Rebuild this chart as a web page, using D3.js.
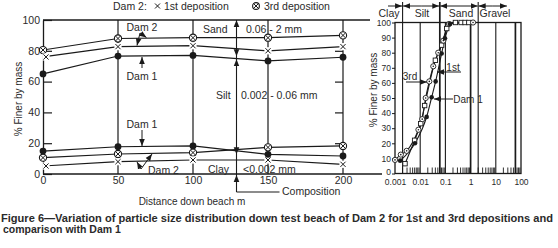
<!DOCTYPE html>
<html><head><meta charset="utf-8">
<script src="https://cdn.jsdelivr.net/npm/d3@7"></script>
<style>
body{margin:0;background:#fff;}
svg{display:block;font-family:"Liberation Sans",Arial,sans-serif;}
text{fill:#2a2a2a;}
</style></head><body>
<svg id="c" width="558" height="248"></svg>
<script>
// ---------- data: left chart (distance down beach) ----------
const distances = [0, 50, 100, 150, 200];
const upper3rd  = [80.5, 88, 88.5, 88.5, 90];
const upper1st  = [76, 82.7, 83.3, 80, 82.7];
const upperDam1 = [65, 76.6, 77, 73.4, 75.8];
const lower3rd  = [10.6, 13, 13.9, 17.3, 18.2];
const lower1st  = [5.2, 8, 9.1, 9.1, 6.3];
const lowerDam1 = [14.9, 17.7, 18.2, 12.8, 11.7];
const leftYTicks = [0, 20, 40, 60, 80, 100];
const compositionAt = 129;          // m
const sandFrom = 75.5, clayTo = 12.5; // % at composition line

// ---------- data: right chart (grading curves) ----------
const size3rd = [0.001, 0.0017, 0.0029, 0.0085, 0.012, 0.0165, 0.023, 0.033, 0.052, 0.083, 0.14, 1.25];
const pct3rd  = [9, 12.5, 15, 29, 36, 50, 61, 71, 80, 88, 99, 100];
const size1st = [0.0025, 0.006, 0.0105, 0.015, 0.04, 0.071, 0.113, 0.25, 0.42, 0.6, 0.85];
const pct1st  = [6.5, 22, 33, 45, 75, 85, 96, 100, 100, 100, 100];
const sizeDam1 = [0.0016, 0.0062, 0.018, 0.0285, 0.041, 0.071, 0.096, 0.15];
const pctDam1  = [8.5, 20, 37.5, 50.5, 61, 79.5, 89.5, 99];
const rightXTicks = [0.001, 0.01, 0.1, 1, 10, 100];
const rightXLabels = ["0.001", "0.01", "0.1", "1", "10", "100"];
const rightYTicks = [0,10,20,30,40,50,60,70,80,90,100];
const classBounds = [0.002, 0.06, 2];
const classNames = ["Clay", "Silt", "Sand", "Gravel"];
const gridSizes = [0.002, 0.01, 0.06, 0.1, 1, 2, 10, 60];

const svg = d3.select("#c");
const ink = "#1a1a1a";

const defs = svg.append("defs");
defs.append("marker").attr("id","ah").attr("viewBox","0 0 10 10").attr("refX",10).attr("refY",5)
  .attr("markerWidth",7).attr("markerHeight",7).attr("markerUnits","userSpaceOnUse").attr("orient","auto")
  .append("path").attr("d","M0,1 L10,5 L0,9 Z").attr("fill",ink);

// ================= LEFT CHART =================
const xL = d3.scaleLinear().domain([0,200]).range([43,343]);
const yL = d3.scaleLinear().domain([0,100]).range([174,20]);
const gL = svg.append("g");

gL.append("line").attr("x1",43).attr("x2",370).attr("y1",yL(100)).attr("y2",yL(100)).attr("stroke",ink).attr("stroke-width",1.3);
gL.append("line").attr("x1",43).attr("x2",382).attr("y1",yL(0)).attr("y2",yL(0)).attr("stroke",ink).attr("stroke-width",1.3);
distances.slice(1).forEach(d=>{
  gL.append("line").attr("x1",xL(d)).attr("x2",xL(d)).attr("y1",yL(100)).attr("y2",yL(0)).attr("stroke",ink).attr("stroke-width",1.2);
});
const axL = gL.append("g").attr("transform",`translate(${xL(0)},0)`)
  .call(d3.axisLeft(yL).tickValues(leftYTicks).tickSizeInner(-9).tickSizeOuter(0).tickPadding(3));
axL.select(".domain").attr("stroke",ink).attr("stroke-width",1.3);
axL.selectAll(".tick line").attr("stroke",ink).attr("stroke-width",1.2);
axL.selectAll(".tick text").attr("font-size",10.5).attr("font-family","Liberation Sans, Arial").attr("fill","#2a2a2a");
const axR = gL.append("g").attr("transform",`translate(${xL(200)},0)`)
  .call(d3.axisRight(yL).tickValues([20,40,60,80]).tickSizeInner(-8).tickSizeOuter(0).tickFormat(""));
axR.select(".domain").remove();
axR.selectAll(".tick line").attr("stroke",ink).attr("stroke-width",1.2);
const axB = gL.append("g").attr("transform",`translate(0,${yL(0)})`)
  .call(d3.axisBottom(xL).tickValues(distances).tickSize(0).tickPadding(3));
axB.select(".domain").remove();
axB.selectAll(".tick text").attr("font-size",10.5).attr("font-family","Liberation Sans, Arial").attr("fill","#2a2a2a");

const lineL = d3.line().x((d,i)=>xL(distances[i])).y(d=>yL(d));
[upper3rd,upper1st,upperDam1,lower3rd,lower1st,lowerDam1].forEach(s=>{
  gL.append("path").attr("d",lineL(s)).attr("fill","none").attr("stroke",ink).attr("stroke-width",1.2);
});
function drawCircX(g,x,y,r){
  g.append("circle").attr("cx",x).attr("cy",y).attr("r",r).attr("fill","#fff").attr("stroke",ink).attr("stroke-width",1.1);
  const k=r*0.7;
  g.append("path").attr("d",`M${x-k},${y-k}L${x+k},${y+k}M${x-k},${y+k}L${x+k},${y-k}`).attr("stroke",ink).attr("stroke-width",1);
}
function drawX(g,x,y,r){
  g.append("rect").attr("x",x-r-1).attr("y",y-r-1).attr("width",2*r+2).attr("height",2*r+2).attr("fill","#fff");
  g.append("path").attr("d",`M${x-r},${y-r}L${x+r},${y+r}M${x-r},${y+r}L${x+r},${y-r}`).attr("stroke",ink).attr("stroke-width",1);
}
[upper3rd,lower3rd].forEach(s=>s.forEach((v,i)=>drawCircX(gL,xL(distances[i]),yL(v),3.6)));
[upper1st,lower1st].forEach(s=>s.forEach((v,i)=>drawX(gL,xL(distances[i])+(i===0?3:0),yL(v),2.6)));
[upperDam1,lowerDam1].forEach(s=>s.forEach((v,i)=>{
  gL.append("circle").attr("cx",xL(distances[i])).attr("cy",yL(v)).attr("r",3.4).attr("fill",ink);
}));

const cx = xL(compositionAt);
gL.append("path").attr("d",`M${cx},${yL(0)+18}L${cx},${yL(100)+8}`).attr("stroke",ink).attr("stroke-width",1.1).attr("fill","none");
gL.append("path").attr("d",`M${cx},${yL(0)+18}L${cx+43},${yL(0)+18}`).attr("stroke",ink).attr("stroke-width",1.1);
function arrow(x1,y1,x2,y2){
  gL.append("line").attr("x1",x1).attr("y1",y1).attr("x2",x2).attr("y2",y2).attr("stroke",ink).attr("stroke-width",1).attr("marker-end","url(#ah)");
}
arrow(cx,yL(100)+9,cx,yL(100));
arrow(cx,yL(sandFrom)-8,cx,yL(sandFrom)-1.5);
arrow(cx,yL(sandFrom)+9,cx,yL(sandFrom)+1.5);
arrow(cx,yL(clayTo)-9,cx,yL(clayTo)-0.5);
arrow(cx,yL(0)+8,cx,yL(0)+1);

const tl = (x,y,t,anchor,fs)=>gL.append("text").attr("x",x).attr("y",y).attr("text-anchor",anchor||"start")
  .attr("dominant-baseline","central").attr("font-size",fs||10.5).text(t);
tl(203,29,"Sand");
tl(246,29,"0.06  - 2 mm");
tl(216,95,"Silt");
tl(241,95,"0.002  -  0.06 mm");
tl(208,169,"Clay");
tl(243,169,"<0.002 mm");
tl(282,191,"Composition");
tl(192,201,"Distance down beach m","middle",10);

tl(142,27,"Dam 2","middle");
arrow(140,33,146.5,37.5);
arrow(140,33,137,45.5);
tl(142,76,"Dam 1","middle");
arrow(142,68,142,57);
tl(142,124,"Dam 1","middle");
arrow(142,130,142,146);
tl(148,170,"Dam 2","start");
arrow(141,169,137,162);
arrow(141,169,152,154);

tl(113,6,"Dam 2:","start",10.5);
gL.append("path").attr("d","M155,3.5L160,8.5M155,8.5L160,3.5").attr("stroke",ink).attr("stroke-width",1);
tl(164,6,"1st deposition","start",10.5);
drawCircX(gL,256,6,3.4);
tl(264,6,"3rd deposition","start",10.5);

gL.append("text").attr("transform","translate(18,99) rotate(-90)").attr("text-anchor","middle")
  .attr("dominant-baseline","central").attr("font-size",10).text("% Finer by mass");

// ================= RIGHT CHART =================
const xR = d3.scaleLog().domain([0.001,100]).range([395,521]);
const yR = d3.scaleLinear().domain([0,100]).range([173.5,22.5]);
const gR = svg.append("g");

gR.append("rect").attr("x",xR(0.001)).attr("y",yR(100)).attr("width",xR(100)-xR(0.001)).attr("height",yR(0)-yR(100))
  .attr("fill","none").attr("stroke",ink).attr("stroke-width",1.3);
gridSizes.forEach(s=>{
  const ext = classBounds.includes(s);
  gR.append("line").attr("x1",xR(s)).attr("x2",xR(s)).attr("y1",ext?2:yR(100)).attr("y2",yR(0))
    .attr("stroke",ink).attr("stroke-width",(s===0.06||s===1||s===60)?1.7:1.1);
});
const minors=[];
for(let e=-3;e<2;e++){for(let m=2;m<=9;m++){minors.push(m*Math.pow(10,e));}}
minors.forEach(s=>{
  gR.append("line").attr("x1",xR(s)).attr("x2",xR(s)).attr("y1",yR(0)).attr("y2",yR(0)-6).attr("stroke",ink).attr("stroke-width",0.9);
});
const aRL = gR.append("g").attr("transform",`translate(${xR(0.001)},0)`)
  .call(d3.axisLeft(yR).tickValues(rightYTicks).tickSizeInner(3).tickSizeOuter(0).tickPadding(1));
aRL.select(".domain").remove();
aRL.selectAll(".tick line").attr("stroke",ink);
aRL.selectAll(".tick text").attr("font-size",8.5).attr("font-family","Liberation Sans, Arial").attr("fill","#2a2a2a");
aRL.selectAll(".tick").filter(d=>d===0).select("text").attr("dy","0.15em");
const aRB = gR.append("g").attr("transform",`translate(0,${yR(0)})`)
  .call(d3.axisBottom(xR).tickValues(rightXTicks).tickFormat((d,i)=>rightXLabels[i]).tickSize(0).tickPadding(5.5));
aRB.select(".domain").remove();
aRB.selectAll(".tick text").attr("font-size",8.5).attr("font-family","Liberation Sans, Arial").attr("fill","#2a2a2a");

const bandEdges = [xR(0.001)-7, xR(0.002), xR(0.06), xR(2), xR(60)-8];
function arrowR(x1,x2){
  gR.append("line").attr("x1",x1).attr("y1",6).attr("x2",x2).attr("y2",6).attr("stroke",ink).attr("stroke-width",1).attr("marker-end","url(#ah)");
}
arrowR(bandEdges[0],bandEdges[1]-0.5);
for(let i=1;i<4;i++){
  const a=bandEdges[i], b=bandEdges[i+1], m=(a+b)/2;
  arrowR(m,a+0.5);
  arrowR(m,b-0.5);
}
const labX = [389, 422, 461, 495];
classNames.forEach((n,i)=>{
  gR.append("text").attr("x",labX[i]).attr("y",13).attr("text-anchor","middle").attr("dominant-baseline","central")
    .attr("font-size",10.5).text(n);
});
gR.append("text").attr("transform","translate(373,90) rotate(-90)").attr("text-anchor","middle")
  .attr("dominant-baseline","central").attr("font-size",10).text("% Finer by mass");

const lineR = d3.line().curve(d3.curveMonotoneX);
function series(sizes,pcts){ return sizes.map((s,i)=>[xR(s),yR(pcts[i])]); }
const s3 = series(size3rd,pct3rd), s1 = series(size1st,pct1st), sD = series(sizeDam1,pctDam1);
[s3,s1,sD].forEach(p=>gR.append("path").attr("d",lineR(p)).attr("fill","none").attr("stroke",ink).attr("stroke-width",1.1));
s1.forEach(([x,y])=>gR.append("rect").attr("x",x-2.2).attr("y",y-2.2).attr("width",4.4).attr("height",4.4)
  .attr("fill","#fff").attr("stroke",ink).attr("stroke-width",0.9));
s3.forEach(([x,y])=>{
  gR.append("circle").attr("cx",x).attr("cy",y).attr("r",2.6).attr("fill","#fff").attr("stroke",ink).attr("stroke-width",0.9);
  gR.append("circle").attr("cx",x).attr("cy",y).attr("r",0.8).attr("fill",ink);
});
sD.forEach(([x,y])=>gR.append("circle").attr("cx",x).attr("cy",y).attr("r",2.3).attr("fill",ink));

function arrowRR(x1,y1,x2,y2){
  gR.append("line").attr("x1",x1).attr("y1",y1).attr("x2",x2).attr("y2",y2).attr("stroke",ink).attr("stroke-width",1).attr("marker-end","url(#ah)");
}
gR.append("text").attr("x",410).attr("y",76).attr("text-anchor","middle").attr("dominant-baseline","central").attr("font-size",10).text("3rd");
arrowRR(406,82,427,82);
gR.append("text").attr("x",453).attr("y",67).attr("text-anchor","middle").attr("dominant-baseline","central").attr("font-size",10).text("1st");
arrowRR(461,72,437,72);
gR.append("text").attr("x",468).attr("y",99).attr("text-anchor","middle").attr("dominant-baseline","central").attr("font-size",10).text("Dam 1");
arrowRR(453,99,434,99);

// ================= CAPTION =================
svg.append("text").attr("x",1).attr("y",221.5).attr("font-weight","bold").attr("font-size",10.5)
  .attr("textLength",552).attr("lengthAdjust","spacingAndGlyphs").attr("fill","#222")
  .text("Figure 6\u2014Variation of particle size distribution down test beach of Dam 2 for 1st and 3rd depositions and");
svg.append("text").attr("x",3).attr("y",233).attr("font-weight","bold").attr("font-size",10.5)
  .attr("fill","#222").text("comparison with Dam 1");
</script>
</body></html>
